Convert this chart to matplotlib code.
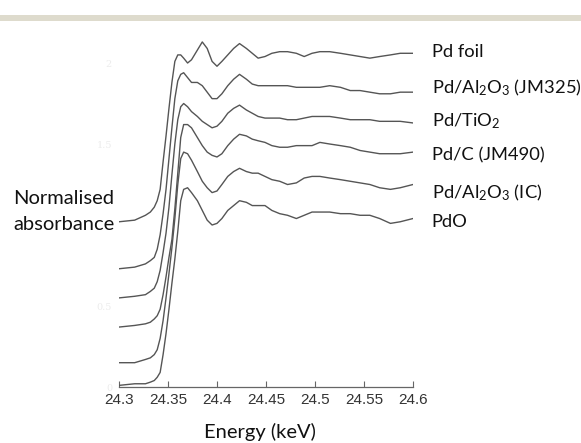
import matplotlib.pyplot as plt
from matplotlib.patches import Rectangle

plt.rcParams['font.family'] = ['Lato', 'DejaVu Sans']
plt.rcParams['mathtext.fontset'] = 'custom'
plt.rcParams['mathtext.rm'] = 'Lato'
plt.rcParams['mathtext.it'] = 'Lato:italic'
plt.rcParams['mathtext.bf'] = 'Lato:bold'

# energy grid (keV) shared by all spectra
energy = [24.300, 24.316, 24.327, 24.332, 24.336, 24.339, 24.342, 24.345, 24.348, 24.351,
          24.354, 24.357, 24.360, 24.363, 24.366, 24.370, 24.374, 24.380, 24.385, 24.390,
          24.395, 24.400, 24.405, 24.411, 24.417, 24.423, 24.430, 24.436, 24.442, 24.449,
          24.456, 24.464, 24.472, 24.481, 24.489, 24.497, 24.505, 24.515, 24.526, 24.536,
          24.546, 24.556, 24.566, 24.577, 24.587, 24.600]

# normalised absorbance, already stacked with offsets
pd_foil = [1.02, 1.03, 1.06, 1.08, 1.11, 1.15, 1.22, 1.39, 1.55, 1.72,
           1.88, 2.01, 2.05, 2.05, 2.03, 2.00, 2.02, 2.08, 2.13, 2.09,
           2.01, 1.98, 2.01, 2.05, 2.09, 2.12, 2.09, 2.06, 2.03, 2.04,
           2.06, 2.07, 2.07, 2.06, 2.04, 2.06, 2.07, 2.07, 2.06, 2.05,
           2.04, 2.03, 2.04, 2.05, 2.06, 2.06]
jm325 = [0.73, 0.74, 0.76, 0.78, 0.80, 0.85, 0.94, 1.07, 1.22, 1.41,
         1.60, 1.78, 1.89, 1.93, 1.94, 1.91, 1.88, 1.88, 1.86, 1.82,
         1.78, 1.78, 1.81, 1.86, 1.90, 1.93, 1.90, 1.87, 1.86, 1.86,
         1.86, 1.86, 1.86, 1.85, 1.85, 1.85, 1.85, 1.86, 1.85, 1.83,
         1.83, 1.82, 1.81, 1.81, 1.82, 1.82]
tio2 = [0.55, 0.56, 0.57, 0.59, 0.61, 0.65, 0.72, 0.83, 0.95, 1.11,
        1.31, 1.50, 1.65, 1.73, 1.75, 1.73, 1.70, 1.67, 1.64, 1.62,
        1.60, 1.61, 1.64, 1.69, 1.72, 1.74, 1.71, 1.69, 1.67, 1.66,
        1.66, 1.66, 1.65, 1.65, 1.66, 1.67, 1.67, 1.67, 1.66, 1.65,
        1.65, 1.65, 1.64, 1.64, 1.64, 1.63]
jm490 = [0.37, 0.38, 0.39, 0.40, 0.42, 0.44, 0.48, 0.57, 0.68, 0.80,
         0.91, 1.10, 1.32, 1.54, 1.62, 1.62, 1.60, 1.54, 1.49, 1.45,
         1.43, 1.42, 1.44, 1.49, 1.53, 1.56, 1.55, 1.53, 1.52, 1.51,
         1.49, 1.48, 1.48, 1.49, 1.49, 1.49, 1.51, 1.50, 1.49, 1.48,
         1.46, 1.45, 1.44, 1.44, 1.44, 1.45]
ic = [0.15, 0.15, 0.17, 0.18, 0.20, 0.23, 0.30, 0.41, 0.55, 0.70,
      0.86, 1.04, 1.25, 1.41, 1.45, 1.44, 1.40, 1.33, 1.27, 1.23,
      1.20, 1.21, 1.25, 1.30, 1.33, 1.35, 1.33, 1.32, 1.32, 1.30,
      1.28, 1.27, 1.25, 1.26, 1.29, 1.30, 1.30, 1.29, 1.28, 1.27,
      1.26, 1.25, 1.23, 1.22, 1.23, 1.25]
pdo = [0.01, 0.02, 0.02, 0.03, 0.04, 0.06, 0.09, 0.20, 0.33, 0.48,
       0.64, 0.79, 0.96, 1.15, 1.22, 1.23, 1.20, 1.15, 1.09, 1.03,
       1.00, 1.01, 1.04, 1.09, 1.12, 1.15, 1.14, 1.12, 1.12, 1.12,
       1.09, 1.07, 1.06, 1.04, 1.06, 1.08, 1.08, 1.08, 1.07, 1.07,
       1.06, 1.06, 1.04, 1.01, 1.02, 1.04]

labels = ['Pd foil', 'Pd/Al$_2$O$_3$ (JM325)', 'Pd/TiO$_2$', 'Pd/C (JM490)',
          'Pd/Al$_2$O$_3$ (IC)', 'PdO']
series = [pd_foil, jm325, tio2, jm490, ic, pdo]

x_ticks = [24.3, 24.35, 24.4, 24.45, 24.5, 24.55, 24.6]
x_ticklabels = ['24.3', '24.35', '24.4', '24.45', '24.5', '24.55', '24.6']
y_ticks = [0, 0.5, 1.5, 2]
y_ticklabels = ['0', '0.5', '1.5', '2']

# where the sample names sit, next to the right-hand end of the curves
label_y = [2.07, 1.85, 1.64, 1.43, 1.20, 1.02]

fig = plt.figure(figsize=(5.81, 4.43), dpi=100)
ax = fig.add_axes([0.2048, 0.1264, 0.5060, 0.8045])

for y in series:
    ax.plot(energy, y, color='#555555', lw=1.0)

for name, ly in zip(labels, label_y):
    ax.text(24.619, ly, name, fontsize=13.2, color='#111111', va='center', ha='left',
            clip_on=False)

ax.set_xlim(24.3, 24.6)
ax.set_ylim(0, 2.2)
ax.set_xticks(x_ticks)
ax.set_xticklabels(x_ticklabels, family='Liberation Sans', fontsize=11, color='#333333')
ax.set_yticks(y_ticks)
ax.set_yticklabels(y_ticklabels, family='DejaVu Serif', fontsize=7, color='#ececec')
ax.tick_params(axis='x', direction='in', length=4, width=0.8, color='#666666', pad=4.5)
ax.tick_params(axis='y', length=0, pad=5)
for s in ['left', 'top', 'right']:
    ax.spines[s].set_visible(False)
ax.spines['bottom'].set_color('#666666')
ax.spines['bottom'].set_linewidth(0.9)

fig.text(0.448, 1 - 432 / 443, 'Energy (keV)', fontsize=14.5, ha='center', va='center',
         color='#111111')
fig.text(13 / 581, 1 - 199 / 443, 'Normalised', fontsize=14.5, ha='left', va='center',
         color='#111111')
fig.text(13 / 581, 1 - 225 / 443, 'absorbance', fontsize=14.5, ha='left', va='center',
         color='#111111')

# thin beige band across the top of the figure
fig.patches.append(Rectangle((0, 1 - 21 / 443), 1, 6 / 443, transform=fig.transFigure,
                             facecolor='#dedbcd', edgecolor='none'))

fig.savefig('out.png', dpi=100)
